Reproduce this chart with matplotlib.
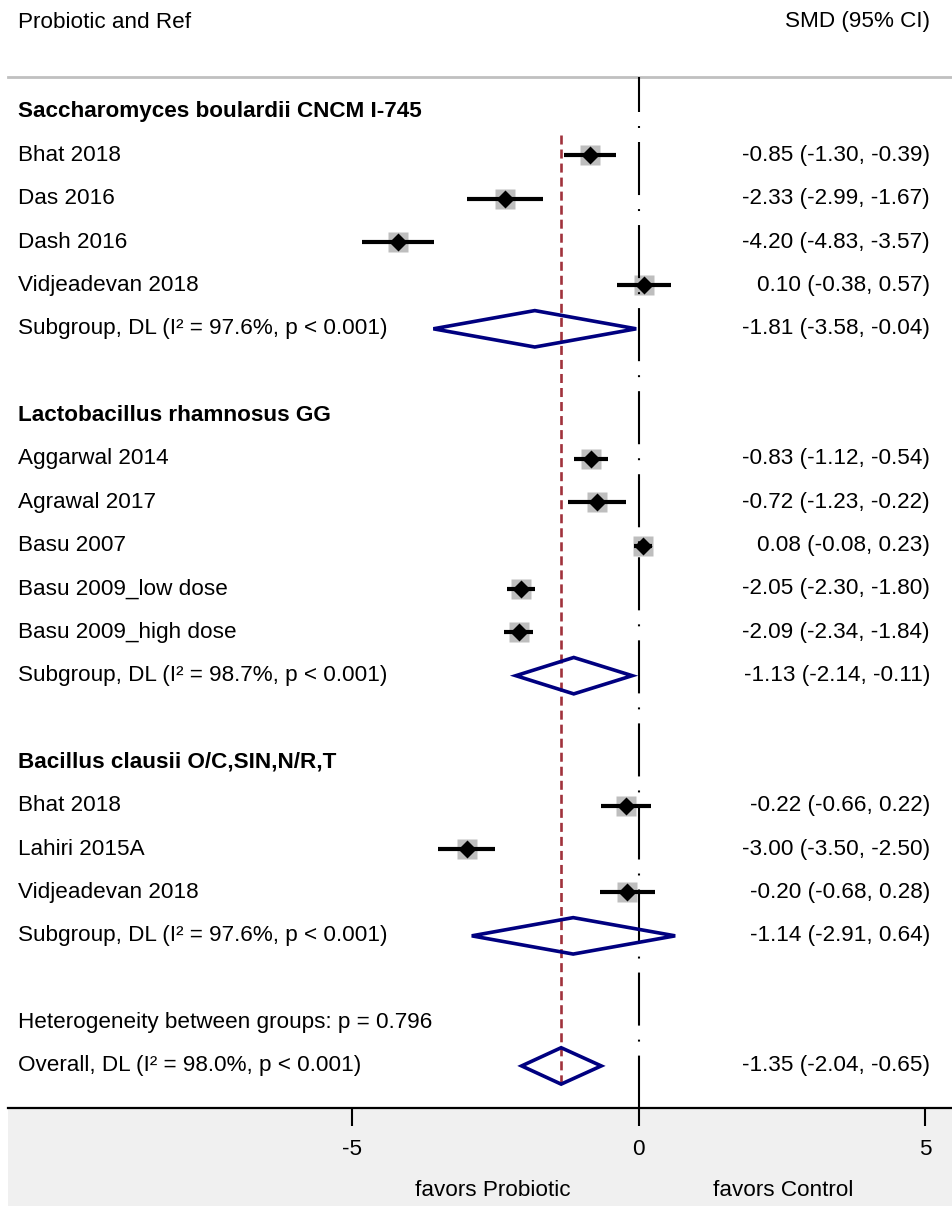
import matplotlib
matplotlib.use("Agg")
import matplotlib.pyplot as plt
from matplotlib.patches import Rectangle, Polygon


GROUPS = ["Saccharomyces boulardii CNCM I-745", "Lactobacillus rhamnosus GG", "Bacillus clausii O/C,SIN,N/R,T"]

STUDIES = [
	["Bhat 2018", "Das 2016", "Dash 2016", "Vidjeadevan 2018"],
	["Aggarwal 2014", "Agrawal 2017", "Basu 2007", "Basu 2009_low dose", "Basu 2009_high dose"],
	["Bhat 2018", "Lahiri 2015A", "Vidjeadevan 2018"],
]
EST = [
	[-0.85, -2.33, -4.20, 0.10],
	[-0.83, -0.72, 0.08, -2.05, -2.09],
	[-0.22, -3.00, -0.20],
]
LO = [
	[-1.30, -2.99, -4.83, -0.38],
	[-1.12, -1.23, -0.08, -2.30, -2.34],
	[-0.66, -3.50, -0.68],
]
HI = [
	[-0.39, -1.67, -3.57, 0.57],
	[-0.54, -0.22, 0.23, -1.80, -1.84],
	[0.22, -2.50, 0.28],
]

SUB_EST = [-1.81, -1.13, -1.14]
SUB_LO = [-3.58, -2.14, -2.91]
SUB_HI = [-0.04, -0.11, 0.64]
SUB_I2 = [97.6, 98.7, 97.6]

HET_P = 0.796
OVERALL = (-1.35, -2.04, -0.65)
OVERALL_I2 = 98.0

XTICKS = [-5, 0, 5]

FONT = "Liberation Sans"
FS = 16.2
NAVY = "#000080"
DARKRED = "#A0323C"


def ci_text(e, lo, hi):
	return f"{e:.2f} ({lo:.2f}, {hi:.2f})"


def diamond(ax, y, e, lo, hi, h=0.42):
	pts = [(lo, y), (e, y - h), (hi, y), (e, y + h)]
	ax.add_patch(Polygon(pts, closed=True, fill=False, edgecolor=NAVY, linewidth=2.6, zorder=6, joinstyle="miter"))


def main():
	plt.rcParams["font.family"] = [FONT, "DejaVu Sans"]
	plt.rcParams["lines.scale_dashes"] = False

	W, H = 953, 1206
	fig = plt.figure(figsize=(W / 100, H / 100), dpi=100)

	# pixel layout
	x0_px, scale = 638.5, 57.3
	ax_left, ax_top, ax_bot = 8, 77, 1108
	row0_px, row_h = 112, 43.36

	fig.patches.append(Rectangle((ax_left / W, 0), 1, 1 - ax_bot / H, transform=fig.transFigure,
		facecolor="#F0F0F0", edgecolor="none", zorder=-5))

	ax = fig.add_axes([ax_left / W, 1 - ax_bot / H, 1 - ax_left / W, (ax_bot - ax_top) / H], zorder=2)
	ax.set_xlim((ax_left - x0_px) / scale, (W - x0_px) / scale)
	ax.set_ylim((ax_bot - row0_px) / row_h, (ax_top - row0_px) / row_h)

	for s in ["left", "right"]:
		ax.spines[s].set_visible(False)
	ax.spines["top"].set_color("#C0C0C0")
	ax.spines["top"].set_linewidth(2.0)
	ax.spines["bottom"].set_linewidth(1.6)
	ax.set_yticks([])
	ax.set_xticks(XTICKS)
	ax.set_xticklabels([str(t) for t in XTICKS])
	ax.tick_params(axis="x", direction="out", length=13, width=1.5, pad=9, labelsize=FS)
	ax.patch.set_alpha(0)

	tr = ax.get_yaxis_transform()
	lx, rx = (18 - ax_left) / (W - ax_left), (930 - ax_left) / (W - ax_left)

	row = 0
	for g, name in enumerate(GROUPS):
		ax.text(lx, row, name, transform=tr, ha="left", va="center", fontsize=FS, fontweight="bold")
		row += 1
		for lab, e, lo, hi in zip(STUDIES[g], EST[g], LO[g], HI[g]):
			ax.text(lx, row, lab, transform=tr, ha="left", va="center", fontsize=FS)
			ax.text(rx, row, ci_text(e, lo, hi), transform=tr, ha="right", va="center", fontsize=FS)
			ax.plot([e], [row], marker="s", ms=14.2, color="#BEBEBE", mec="none", zorder=2)
			ax.plot([lo, hi], [row, row], color="black", linewidth=3.0, solid_capstyle="butt", zorder=4)
			ax.plot([e], [row], marker="D", ms=9.2, color="black", mec="none", zorder=5)
			row += 1
		ax.text(lx, row, f"Subgroup, DL (I\u00b2 = {SUB_I2[g]:.1f}%, p < 0.001)", transform=tr,
			ha="left", va="center", fontsize=FS)
		ax.text(rx, row, ci_text(SUB_EST[g], SUB_LO[g], SUB_HI[g]), transform=tr, ha="right", va="center", fontsize=FS)
		diamond(ax, row, SUB_EST[g], SUB_LO[g], SUB_HI[g])
		row += 2

	ax.text(lx, row, f"Heterogeneity between groups: p = {HET_P:.3f}", transform=tr, ha="left", va="center", fontsize=FS)
	row += 1
	e, lo, hi = OVERALL
	ax.text(lx, row, f"Overall, DL (I\u00b2 = {OVERALL_I2:.1f}%, p < 0.001)", transform=tr, ha="left", va="center", fontsize=FS)
	ax.text(rx, row, ci_text(e, lo, hi), transform=tr, ha="right", va="center", fontsize=FS)
	diamond(ax, row, e, lo, hi)

	# overall estimate line
	ax.plot([e, e], [0.53, row + 0.42], color=DARKRED, linewidth=1.9, linestyle=(0, (6.5, 3.6)), zorder=3)
	# null line
	ymin, ymax = ax.get_ylim()
	ax.plot([0, 0], [ymax, ymin], color="black", linewidth=1.5,
		linestyle=(13, (38.2, 10.1, 1.4, 10.1)), zorder=3, clip_on=False)

	fig.text(18 / W, 1 - 22 / H, "Probiotic and Ref", ha="left", va="center", fontsize=FS)
	fig.text(930 / W, 1 - 22 / H, "SMD (95% CI)", ha="right", va="center", fontsize=FS)
	fig.text(493 / W, 1 - 1190 / H, "favors Probiotic", ha="center", va="center", fontsize=FS)
	fig.text(783 / W, 1 - 1190 / H, "favors Control", ha="center", va="center", fontsize=FS)

	fig.savefig("out.png", dpi=100)
	plt.close(fig)


if __name__ == "__main__":
	main()
